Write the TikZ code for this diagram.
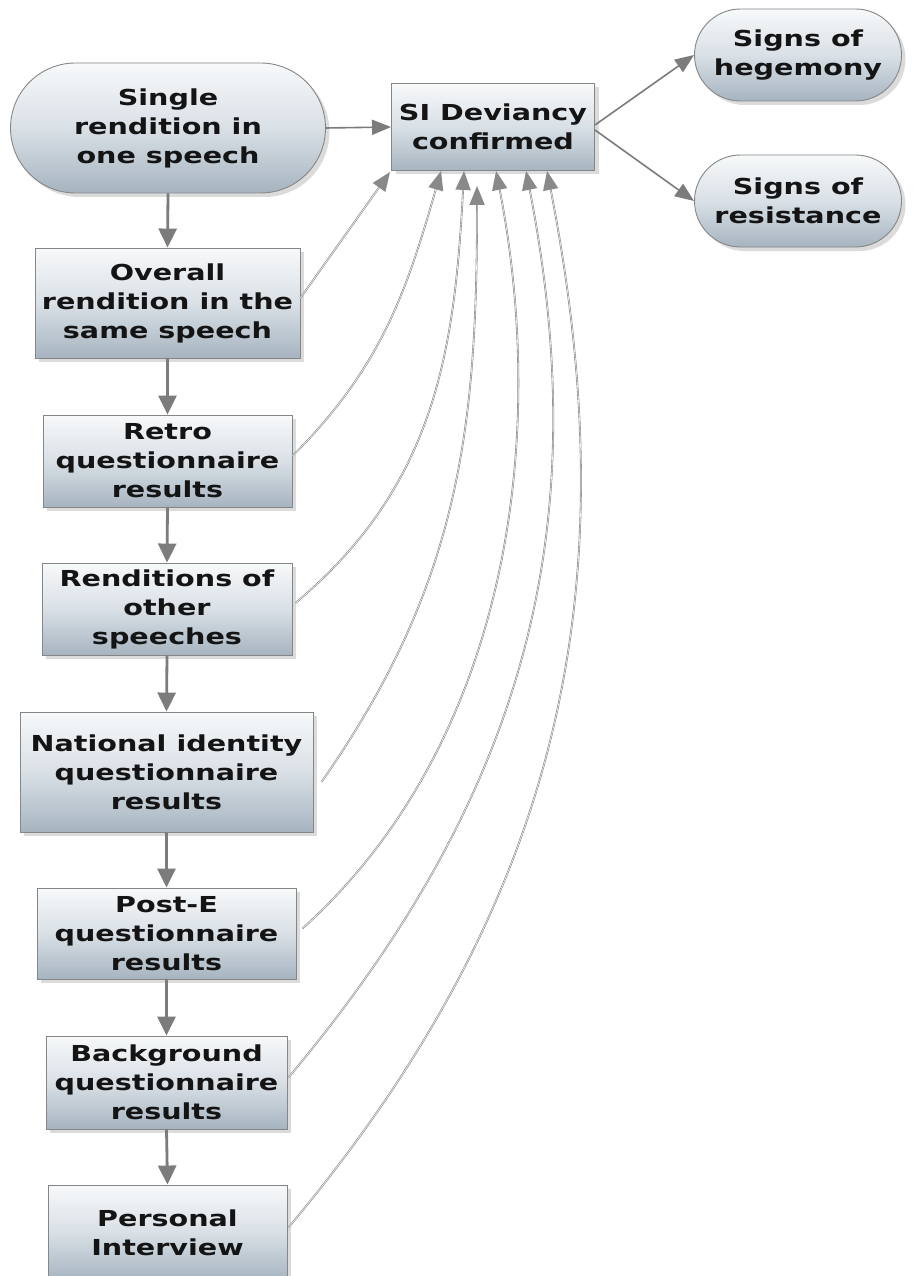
\documentclass[tikz,border=0pt]{standalone}
\usepackage{fontspec}
\newfontfamily\vfont[FakeStretch=1.3]{DejaVu Sans Bold}
\usetikzlibrary{arrows.meta,shapes.misc,shadows}
\definecolor{boxtop}{HTML}{F7F9FA}
\definecolor{boxmid}{HTML}{D9E0E6}
\definecolor{boxbot}{HTML}{A6B4C0}
\definecolor{edgegray}{HTML}{868686}
\definecolor{arrowgray}{HTML}{7C7C7C}
\definecolor{txt}{HTML}{141414}
\begin{document}
\begin{tikzpicture}[x=1pt,y=1pt,
  base/.style={draw=edgegray, line width=0.9pt, top color=boxtop, bottom color=boxbot, middle color=boxmid,
    text=txt, font=\vfont\fontsize{22}{29}\selectfont, align=center, inner sep=0pt,
    drop shadow={shadow xshift=4pt, shadow yshift=-4pt, opacity=0.28}},
  stepbox/.style={base, rectangle},
  pill/.style={base, rounded rectangle},
  flow/.style={draw=arrowgray, line width=2.8pt, -{Triangle[width=18pt,length=19pt]}},
  side/.style={draw=arrowgray, line width=1.6pt, -{Triangle[width=15pt,length=19pt]}},
  feed/.style={draw=arrowgray!90, line width=1.8pt, -{Triangle[width=15pt,length=19pt]},
    postaction={draw=gray!8, line width=0.6pt, -, shorten >=19pt}},
]
\fill[white] (0,0) rectangle (913,-1276);
\useasboundingbox (0,0) rectangle (913,-1276);

\node[pill, minimum width=315pt, minimum height=130pt] (single) at (168,-128) {Single\\rendition in\\one speech};
\node[stepbox, minimum width=203pt, minimum height=87pt] (si) at (493,-127) {SI Deviancy\\confirmed};
\node[pill, minimum width=207pt, minimum height=92pt] (hege) at (798,-55) {Signs of\\hegemony};
\node[pill, minimum width=207pt, minimum height=92pt] (resist) at (798,-201) {Signs of\\resistance};

\node[stepbox, minimum width=265pt, minimum height=110pt] (overall) at (167.5,-303) {Overall\\rendition in the\\same speech};
\node[stepbox, minimum width=249pt, minimum height=92pt] (retro) at (167.5,-461) {Retro\\questionnaire\\results};
\node[stepbox, minimum width=250pt, minimum height=92pt] (rend) at (167,-609) {Renditions of\\other\\speeches};
\node[stepbox, minimum width=293pt, minimum height=120pt] (nat) at (166.5,-772) {National identity\\questionnaire\\results};
\node[stepbox, minimum width=259pt, minimum height=91pt] (poste) at (166.5,-933.5) {Post-E\\questionnaire\\results};
\node[stepbox, minimum width=241pt, minimum height=93pt] (backg) at (166.5,-1082.5) {Background\\questionnaire\\results};
\node[stepbox, minimum width=239pt, minimum height=95pt] (pers) at (167.5,-1232.5) {Personal\\Interview};

% vertical chain
\draw[flow] (single.south) -- (overall.north);
\draw[flow] (overall.south) -- (retro.north);
\draw[flow] (retro.south) -- (rend.north);
\draw[flow] (rend.south) -- (nat.north);
\draw[flow] (nat.south) -- (poste.north);
\draw[flow] (poste.south) -- (backg.north);
\draw[flow] (backg.south) -- (pers.north);

% to and from SI
\draw[side] (single.east) -- (si.west);
\draw[side] ([yshift=2pt]si.east) -- (hege.west);
\draw[side] ([yshift=-3pt]si.east) -- (resist.west);

% feedback curves
\draw[feed] ([yshift=5pt]overall.east) -- ([xshift=-1pt,yshift=-1pt]si.south west);
\draw[feed] ([yshift=5pt]retro.east) .. controls +(45:126) and +(-106:126) .. ([xshift=50pt]si.south west);
\draw[feed] ([xshift=3pt,yshift=6pt]rend.east) .. controls +(40:182) and +(-93:182) .. ([xshift=73pt]si.south west);
\draw[feed] ([xshift=8pt,yshift=-10pt]nat.east) .. controls +(55:242) and +(-90:242) .. ([xshift=86pt,yshift=-15pt]si.south west);
\draw[feed] ([xshift=6pt,yshift=5pt]poste.east) .. controls +(42:276) and +(-79:276) .. ([xshift=105pt]si.south west);
\draw[feed] ([xshift=1pt,yshift=5pt]backg.east) .. controls +(50:367) and +(-79:367) .. ([xshift=135pt]si.south west);
\draw[feed] ([xshift=1pt,yshift=5pt]pers.east) .. controls +(50:426) and +(-79:426) .. ([xshift=156pt]si.south west);
\end{tikzpicture}
\end{document}
